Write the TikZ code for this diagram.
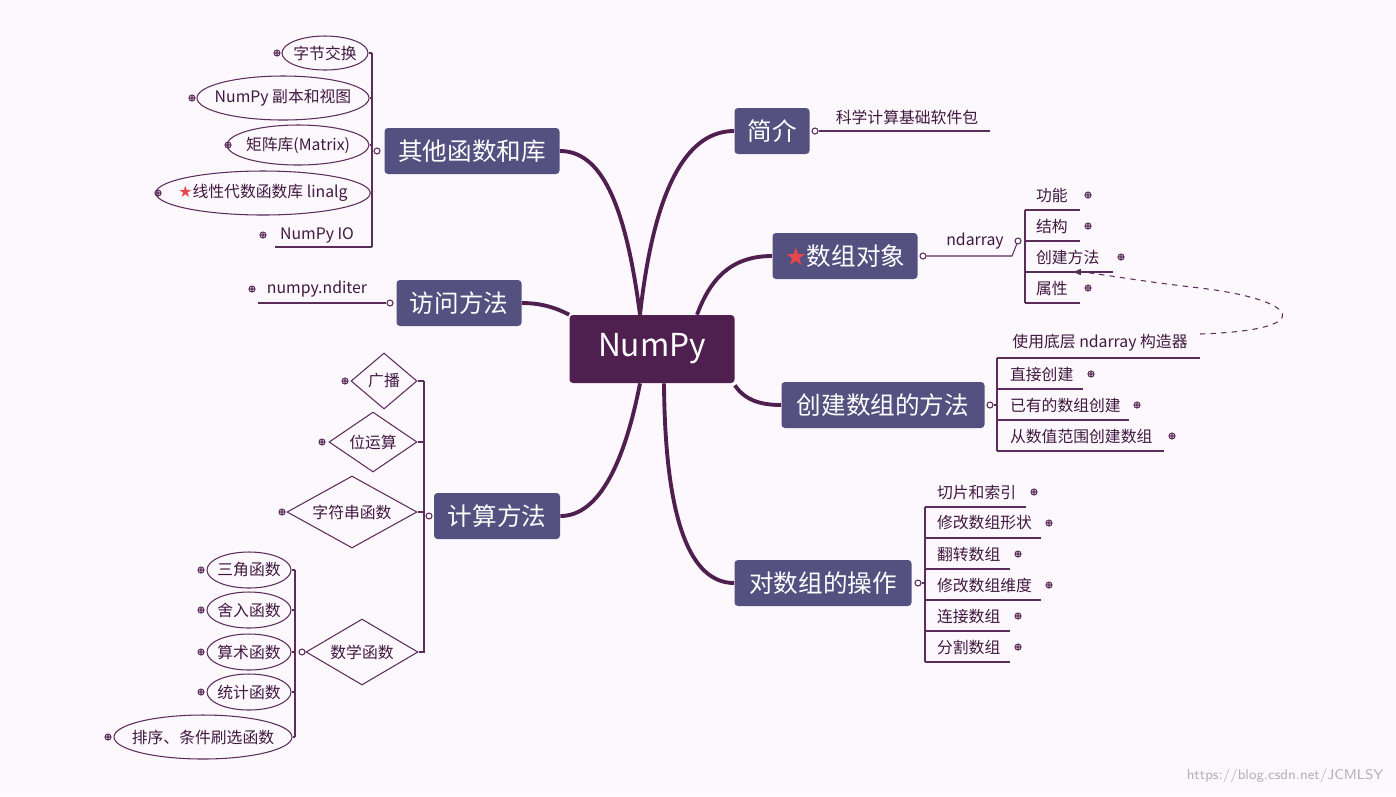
\documentclass[tikz,border=0pt]{standalone}
\usepackage{fontspec}
\setmainfont{Noto Sans CJK SC}
\newfontfamily\symfont{DejaVu Sans}
\usetikzlibrary{shapes.geometric,arrows.meta}
\definecolor{bgc}{HTML}{FDF8FD}
\definecolor{rootc}{HTML}{4F1F4F}
\definecolor{mainc}{HTML}{54507F}
\definecolor{linec}{HTML}{5A2D5A}
\definecolor{starc}{HTML}{E8474C}
\tikzset{
  root/.style={fill=rootc,text=white,rounded corners=2pt,minimum width=165*0.02cm,minimum height=68*0.02cm,font=\fontsize{18}{18}\selectfont},
  topic/.style={fill=mainc,text=white,rounded corners=2pt,minimum height=46*0.02cm,inner xsep=3pt,font=\fontsize{14}{14}\selectfont},
  leaf/.style={text=rootc!80!black,inner sep=1pt,font=\fontsize{9}{9}\selectfont},
  oval/.style={leaf,ellipse,draw=linec,semithick,inner xsep=-5pt,inner ysep=0pt},
  dia/.style={leaf,diamond,draw=linec,semithick,aspect=1.6,inner sep=0pt},
  branch/.style={draw=rootc,line width=2.2pt},
  thin/.style={draw=linec,semithick},
  knob/.style={circle,draw=linec!70,fill=bgc,inner sep=0pt,minimum size=6*0.02cm,thin},
  plusc/.pic={\draw[linec!70,thin] (0,0) circle (3*0.02cm) (-2*0.02cm,0) -- (2*0.02cm,0) (0,-2*0.02cm) -- (0,2*0.02cm);}
}
\newcommand{\redstar}{{\symfont\color{starc}★}}
\begin{document}
\begin{tikzpicture}[x=0.02cm,y=-0.02cm]
  \fill[bgc] (0,0) rectangle (1396,796);
  \useasboundingbox (0,0) rectangle (1396,796);

  % root and topics
  \node[root] (np) at (652,349) {NumPy};
  \node[topic,minimum width=75*0.02cm] (intro) at (772,131) {简介};
  \node[topic,minimum width=145*0.02cm] (obj) at (845,256) {\redstar{}数组对象};
  \node[topic,minimum width=203*0.02cm] (make) at (883,405) {创建数组的方法};
  \node[topic,minimum width=177*0.02cm] (ops) at (823,583) {对数组的操作};
  \node[topic,minimum width=175*0.02cm] (other) at (472,151) {其他函数和库};
  \node[topic,minimum width=125*0.02cm] (acc) at (459,303) {访问方法};
  \node[topic,minimum width=126*0.02cm] (calc) at (497,516) {计算方法};

  % thick branches
  \draw[branch] ([xshift=-12*0.02cm]np.north) .. controls (655,180) and (690,131) .. (intro.west);
  \draw[branch] ([xshift=45*0.02cm]np.north) .. controls (710,280) and (730,256) .. (obj.west);
  \draw[branch] ([yshift=-2*0.02cm]np.south east) .. controls (745,400) and (760,405) .. (make.west);
  \draw[branch] ([xshift=12*0.02cm]np.south) .. controls (665,520) and (690,583) .. (ops.west);
  \draw[branch] ([xshift=-12*0.02cm]np.north) .. controls (625,200) and (600,151) .. (other.east);
  \draw[branch] (np.north west) .. controls (560,310) and (545,303) .. (acc.east);
  \draw[branch] ([xshift=-12*0.02cm]np.south) .. controls (625,460) and (600,516) .. (calc.east);

  % 简介
  \node[knob] (k1) at (815,131) {};
  \draw[thin] (k1) -- (990,131);
  \node[leaf] (l1) at (907,117) {科学计算基础软件包};

  % 数组对象
  \node[knob] (k2) at (923,256) {};
  \node[leaf] (nd) at (975,241) {ndarray};
  \node[knob] (k3) at (1018,241) {};
  \draw[thin] (k2) -- (1012,256) -- (k3);
  \draw[thin] (1025,210) -- (1025,303);
  \foreach \t/\y/\e in {功能/195/1080,结构/226/1080,创建方法/257/1113,属性/288/1080}{
    \node[leaf,anchor=west] at (1034,\y) {\t};
    \draw[thin] (1025,\y+15) -- (\e,\y+15);
    \pic at (\e+8,\y) {plusc};
  }
  \coordinate (dashend) at (1072,272);
  \draw[thin,dashed,-{Latex[length=5pt]}] (1200,334) .. controls (1320,330) and (1300,300) .. (1200,288) .. controls (1130,280) and (1090,272) .. (dashend);

  % 创建数组的方法
  \node[knob] (k4) at (990,405) {};
  \draw[thin] (997,358) -- (997,451);
  \draw[thin] (k4) -- (997,405);
  \node[leaf] at (1100,343) {使用底层 ndarray 构造器};
  \draw[thin] (997,358) -- (1200,358);
  \foreach \t/\y/\e in {直接创建/374/1083,已有的数组创建/405/1129,从数值范围创建数组/436/1164}{
    \node[leaf,anchor=west] at (1008,\y) {\t};
    \draw[thin] (997,\y+15) -- (\e,\y+15);
    \pic at (\e+8,\y) {plusc};
  }

  % 对数组的操作
  \node[knob] (k5) at (918,583) {};
  \draw[thin] (925,507) -- (925,662);
  \draw[thin] (k5) -- (925,583);
  \foreach \t/\y/\e in {切片和索引/492/1026,修改数组形状/523/1041,翻转数组/554/1010,修改数组维度/585/1041,连接数组/616/1010,分割数组/647/1010}{
    \node[leaf,anchor=west] at (935,\y) {\t};
    \draw[thin] (925,\y+15) -- (\e,\y+15);
    \pic at (\e+8,\y) {plusc};
  }

  % 其他函数和库
  \node[knob] (k6) at (377,151) {};
  \draw[thin] (k6) -- (372,151);
  \draw[thin] (372,53) -- (372,247);
  \node[oval,minimum width=86*0.02cm,minimum height=34*0.02cm] (o1) at (325,53) {字节交换};
  \node[oval,minimum width=172*0.02cm,minimum height=44*0.02cm] (o2) at (283,98) {NumPy 副本和视图};
  \node[oval,minimum width=142*0.02cm,minimum height=40*0.02cm] (o3) at (298,145) {矩阵库(Matrix)};
  \node[oval,minimum width=210*0.02cm,minimum height=44*0.02cm] (o4) at (263,193) {\redstar{}线性代数函数库 linalg};
  \node[leaf] (o5) at (317,235) {NumPy IO};
  \foreach \o in {o1,o2,o3,o4}{ \draw[thin] (\o.east) -- (372,0 |- \o.east); }
  \draw[thin] (275,247) -- (372,247);
  \pic at (277,53) {plusc};
  \pic at (192,98) {plusc};
  \pic at (228,145) {plusc};
  \pic at (158,193) {plusc};
  \pic at (263,235) {plusc};

  % 访问方法
  \node[knob] (k7) at (390,303) {};
  \draw[thin] (k7) -- (258,303);
  \node[leaf] (it) at (317,289) {numpy.nditer};
  \pic at (252,289) {plusc};

  % 计算方法
  \node[knob] (k8) at (429,516) {};
  \draw[thin] (k8) -- (424,516);
  \draw[thin] (424,381) -- (424,653);
  \node[dia,minimum width=66*0.02cm,minimum height=56*0.02cm] (d1) at (384,381) {广播};
  \node[dia,minimum width=88*0.02cm,minimum height=60*0.02cm] (d2) at (373,442) {位运算};
  \node[dia,minimum width=130*0.02cm,minimum height=72*0.02cm] (d3) at (352,512) {字符串函数};
  \node[dia,minimum width=112*0.02cm,minimum height=66*0.02cm] (d4) at (362,652) {数学函数};
  \foreach \d in {d1,d2,d3,d4}{ \draw[thin] (\d.east) -- (424,0 |- \d.east); }
  \pic at (345,381) {plusc};
  \pic at (322,442) {plusc};
  \pic at (282,512) {plusc};

  % 数学函数
  \node[knob] (k9) at (302,652) {};
  \draw[thin] (295,570) -- (295,737);
  \foreach \t/\y in {三角函数/570,舍入函数/610,算术函数/652,统计函数/692}{
    \node[oval,minimum width=84*0.02cm,minimum height=36*0.02cm] (m\y) at (249,\y) {\t};
    \draw[thin] (m\y.east) -- (295,\y);
    \pic at (201,\y) {plusc};
  }
  \node[oval,minimum width=178*0.02cm,minimum height=44*0.02cm] (m5) at (203,737) {排序、条件刷选函数};
  \draw[thin] (m5.east) -- (295,737);
  \pic at (108,737) {plusc};

  \node[text=gray!60,font=\fontsize{8}{8}\selectfont\sffamily] (wm) at (1285,776) {https://blog.csdn.net/JCMLSY};
\end{tikzpicture}
\end{document}
